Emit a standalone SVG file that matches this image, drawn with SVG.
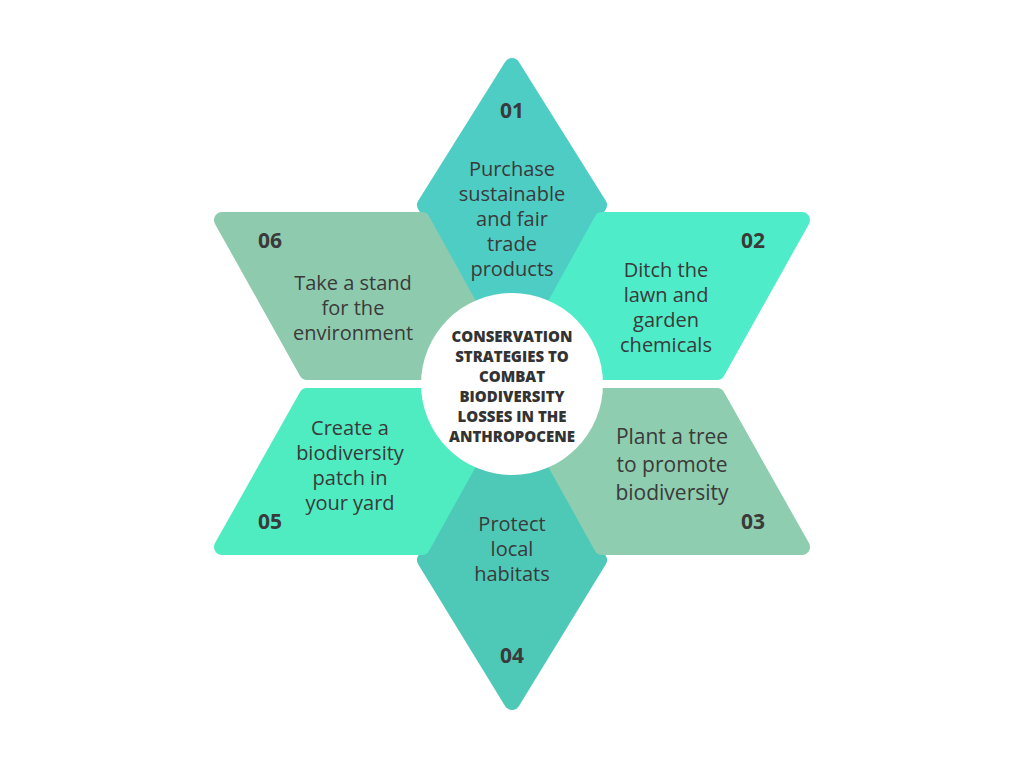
<svg xmlns="http://www.w3.org/2000/svg" width="1024" height="768" viewBox="0 0 1024 768">
<style>
.p{stroke-linejoin:round;stroke-width:16}
.n{font-family:"Open Sans","Liberation Sans",sans-serif;font-weight:700;font-size:21px;fill:#3a3a3a;text-anchor:middle}
.t{font-family:"Open Sans","Liberation Sans",sans-serif;font-size:20px;fill:#3a3a3a;text-anchor:middle}
.b{font-size:21px}
.c{font-family:"Open Sans","Liberation Sans",sans-serif;font-weight:800;font-size:15px;fill:#333;text-anchor:middle}
</style>
<rect width="1024" height="768" fill="#fff"/>
<g id="n01"><path class="p" d="M512,66 L599,205 L512,345 L425,205 Z" fill="#4ECDC4" stroke="#4ECDC4"/>
<text class="n" x="512" y="118">01</text>
<text class="t" x="512" y="176">Purchase</text><text class="t" x="512" y="201">sustainable</text><text class="t" x="512" y="226">and fair</text><text class="t" x="512" y="251">trade</text><text class="t" x="512" y="276">products</text></g>
<g id="n04"><path class="p" d="M512,420 L599,560 L512,702 L425,560 Z" fill="#4EC9B8" stroke="#4EC9B8"/>
<text class="n" x="512" y="663">04</text>
<text class="t" x="512" y="531">Protect</text><text class="t" x="512" y="556">local</text><text class="t" x="512" y="581">habitats</text></g>
<g id="n02"><path class="p" d="M602,220 L802,220 L717,372 L518,372 Z" fill="#4EECC8" stroke="#4EECC8"/>
<text class="n" x="753" y="248">02</text>
<text class="t" x="666" y="277">Ditch the</text><text class="t" x="666" y="302">lawn and</text><text class="t" x="666" y="327">garden</text><text class="t" x="666" y="352">chemicals</text></g>
<g id="n03"><path class="p" d="M518,396 L717,396 L802,547 L602,547 Z" fill="#8ECDB0" stroke="#8ECDB0"/>
<text class="n" x="753" y="529">03</text>
<text class="t b" x="672" y="444">Plant a tree</text><text class="t b" x="672" y="472">to promote</text><text class="t b" x="672" y="500">biodiversity</text></g>
<g id="n06"><path class="p" d="M222,220 L422,220 L506,372 L307,372 Z" fill="#8ECBAE" stroke="#8ECBAE"/>
<text class="n" x="270" y="248">06</text>
<text class="t" x="353" y="290">Take a stand</text><text class="t" x="353" y="315">for the</text><text class="t" x="353" y="340">environment</text></g>
<g id="n05"><path class="p" d="M307,396 L506,396 L422,547 L222,547 Z" fill="#4EECC0" stroke="#4EECC0"/>
<text class="n" x="270" y="529">05</text>
<text class="t" x="350" y="435">Create a</text><text class="t" x="350" y="460">biodiversity</text><text class="t" x="350" y="485">patch in</text><text class="t" x="350" y="510">your yard</text></g>
<g id="center"><circle cx="512" cy="384" r="91" fill="#fff"/>
<text class="c" x="512" y="342">CONSERVATION</text><text class="c" x="512" y="362">STRATEGIES TO</text><text class="c" x="512" y="382">COMBAT</text><text class="c" x="512" y="402">BIODIVERSITY</text><text class="c" x="512" y="422">LOSSES IN THE</text><text class="c" x="512" y="442">ANTHROPOCENE</text></g>
<g id="connectors"/>
</svg>
